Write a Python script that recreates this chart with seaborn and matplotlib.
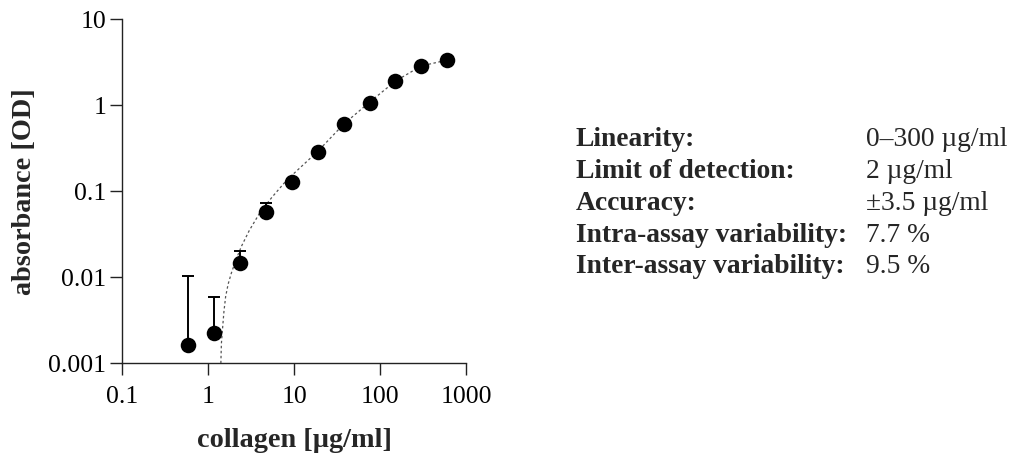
import numpy as np
import pandas as pd
import matplotlib
matplotlib.use("Agg")
import matplotlib.pyplot as plt
import seaborn as sns

# Standard curve: collagen concentration (µg/ml) vs. absorbance (OD)
concentration = [0.586, 1.17, 2.34, 4.69, 9.375, 18.75, 37.5, 75, 150, 300, 600]
absorbance = [0.00163, 0.00227, 0.0147, 0.0575, 0.127, 0.286, 0.60, 1.06, 1.90, 2.88, 3.33]
error_top = [0.0104, 0.0059, 0.0204, 0.073, 0.127, 0.286, 0.60, 1.06, 1.90, 2.88, 3.33]

# Fitted curve
fit_conc = [1.40, 1.42, 1.46, 1.52, 1.59, 1.70, 1.85, 2.10, 2.42, 3.00, 3.95, 5.5, 8.2, 18.75, 37.5, 75, 150, 300, 600]
fit_abs = [0.001, 0.0017, 0.00244, 0.0040, 0.00594, 0.0083, 0.0111, 0.0160, 0.0227, 0.0350, 0.0555, 0.085, 0.135, 0.29, 0.60, 1.08, 1.90, 2.85, 3.33]

# Assay characteristics
spec_labels = ["Linearity:", "Limit of detection:", "Accuracy:",
               "Intra-assay variability:", "Inter-assay variability:"]
spec_values = ["0\u2013300 \u00b5g/ml", "2 \u00b5g/ml", "\u00b13.5 \u00b5g/ml", "7.7 %", "9.5 %"]

x_ticks = [0.1, 1, 10, 100, 1000]
x_ticklabels = ["0.1", "1", "10", "100", "1000"]
y_ticks = [0.001, 0.01, 0.1, 1, 10]
y_ticklabels = ["0.001", "0.01", "0.1", "1", "10"]

sns.set_style("ticks")
plt.rcParams["font.family"] = ["Liberation Serif", "DejaVu Serif"]

fig = plt.figure(figsize=(10.11, 4.54), dpi=100)
W, H = 1011, 454
ax = fig.add_axes([122.3 / W, 1 - 363.3 / H, (466.3 - 122.3) / W, (363.3 - 19) / H])

pts = pd.DataFrame({"conc": concentration, "od": absorbance})
fit = pd.DataFrame({"conc": fit_conc, "od": fit_abs})

ax.set_xscale("log")
ax.set_yscale("log")

sns.lineplot(data=fit, x="conc", y="od", ax=ax, color="#555555",
             linewidth=0.9, linestyle=(0, (2.0, 2.0)), sort=False, zorder=2)

upper = np.array(error_top) - np.array(absorbance)
lower = np.zeros_like(upper)
ax.errorbar(concentration, absorbance, yerr=[lower, upper], fmt="none",
            ecolor="black", elinewidth=1.4, capsize=4.5, capthick=1.4, zorder=3)

sns.scatterplot(data=pts, x="conc", y="od", ax=ax, color="black", s=125,
                edgecolor="black", linewidth=0, zorder=4)

ax.set_xlim(0.1, 1000)
ax.set_ylim(0.001, 10)
ax.set_xticks(x_ticks)
ax.set_xticklabels(x_ticklabels)
ax.set_yticks(y_ticks)
ax.set_yticklabels(y_ticklabels)
ax.minorticks_off()
ax.tick_params(axis="both", which="major", direction="out", length=8.5,
               width=1.0, color="#222222", labelsize=18.5,
               labelcolor="black")
ax.tick_params(axis="x", pad=8)
ax.tick_params(axis="y", pad=3)

for side in ("top", "right"):
    ax.spines[side].set_visible(False)
for side in ("left", "bottom"):
    ax.spines[side].set_linewidth(1.0)
    ax.spines[side].set_color("#222222")

ax.set_xlabel("collagen [\u00b5g/ml]", fontsize=20.3, fontweight="bold", labelpad=14)
ax.set_ylabel("absorbance [OD]", fontsize=20.3, fontweight="bold", labelpad=8)

row_y = [140, 171.7, 203.3, 235, 266.5]
for lab, val, yy in zip(spec_labels, spec_values, row_y):
    fig.text(575.5 / W, 1 - yy / H, lab, fontsize=19.8, fontweight="bold",
             va="center", ha="left")
    fig.text(866.5 / W, 1 - yy / H, val, fontsize=19.8, va="center", ha="left")

fig.savefig("out.png", dpi=100, facecolor="white")
